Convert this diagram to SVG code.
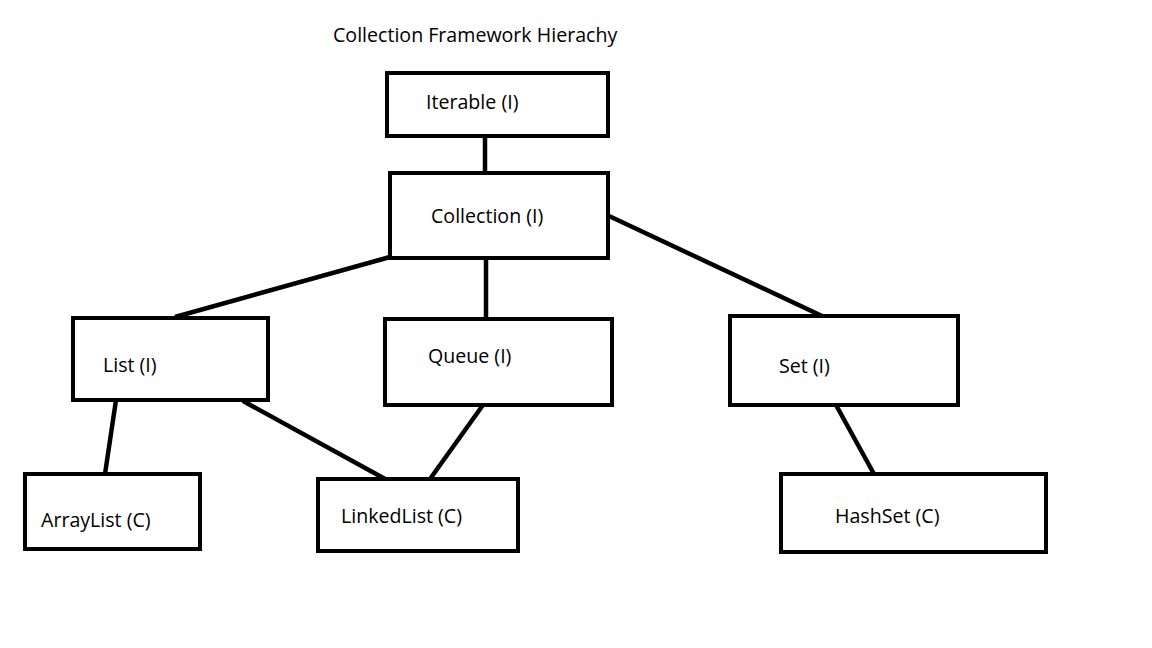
<svg xmlns="http://www.w3.org/2000/svg" width="1152" height="648" viewBox="0 0 1152 648">
<style>
.box{fill:#fff;stroke:#000;stroke-width:4}
.lbl{font-family:"Open Sans","Noto Sans",sans-serif;font-size:19.6px;fill:#000}
.conn line{stroke:#000;stroke-width:4.5}
</style>
<rect width="1152" height="648" fill="#fff"/>
<text class="lbl" x="333" y="42">Collection Framework Hierachy</text>
<g id="connectors" class="conn">
<line x1="485" y1="136" x2="485" y2="173"/>
<line x1="390" y1="257" x2="175" y2="317"/>
<line x1="486" y1="258" x2="486" y2="319"/>
<line x1="609" y1="216" x2="822" y2="316"/>
<line x1="116" y1="400" x2="105" y2="474"/>
<line x1="243" y1="401" x2="387" y2="480"/>
<line x1="483" y1="405" x2="430" y2="479"/>
<line x1="836" y1="405" x2="874" y2="474"/>
</g>
<g id="iterable"><rect class="box" x="387" y="73" width="221" height="63"/><text class="lbl" x="426" y="109">Iterable (I)</text></g>
<g id="collection"><rect class="box" x="390" y="173" width="218" height="85"/><text class="lbl" x="431" y="223">Collection (I)</text></g>
<g id="list"><rect class="box" x="73" y="318" width="195" height="82"/><text class="lbl" x="103" y="372">List (I)</text></g>
<g id="queue"><rect class="box" x="385" y="319" width="227" height="86"/><text class="lbl" x="428" y="363">Queue (I)</text></g>
<g id="set"><rect class="box" x="730" y="316" width="228" height="89"/><text class="lbl" x="779" y="373">Set (I)</text></g>
<g id="arraylist"><rect class="box" x="25" y="474" width="175" height="75"/><text class="lbl" x="41" y="527">ArrayList (C)</text></g>
<g id="linkedlist"><rect class="box" x="318" y="479" width="200" height="72"/><text class="lbl" x="341" y="523">LinkedList (C)</text></g>
<g id="hashset"><rect class="box" x="781" y="474" width="265" height="78"/><text class="lbl" x="835" y="523">HashSet (C)</text></g>
</svg>
